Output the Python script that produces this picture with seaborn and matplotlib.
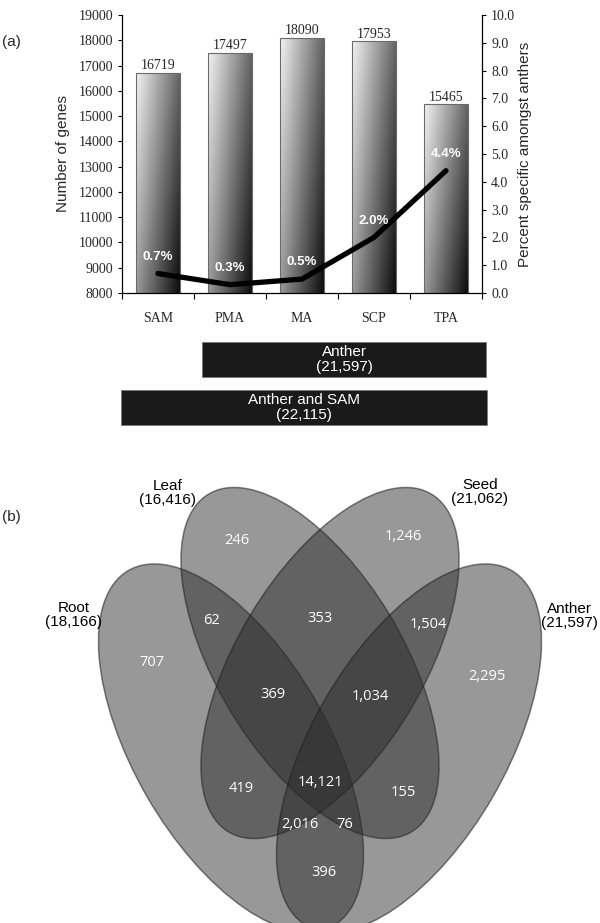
import numpy as np
import pandas as pd
import matplotlib
matplotlib.use('Agg')
import matplotlib.pyplot as plt
from matplotlib.patches import Ellipse
import seaborn as sns

# panel (a): genes per stage and % anther-specific
stages = ['SAM', 'PMA', 'MA', 'SCP', 'TPA']
n_genes = [16719, 17497, 18090, 17953, 15465]
pct_specific = [0.7, 0.3, 0.5, 2.0, 4.4]

# union boxes under the bars
union_names = ['Anther', 'Anther and SAM']
union_counts = [21597, 22115]
union_span = [(0.61, 4.56), (-0.51, 4.57)]

# panel (b): four tissue venn
tissues = ['Root', 'Leaf', 'Seed', 'Anther']
tissue_totals = [18166, 16416, 21062, 21597]
regions = ['R', 'L', 'S', 'A', 'RL', 'LS', 'SA', 'RLS', 'LSA', 'RS', 'LA',
           'RSA', 'RLSA', 'RLA', 'RA']
region_counts = [707, 246, 1246, 2295, 62, 353, 1504, 369, 1034, 419, 155,
                 2016, 14121, 76, 396]

sns.set_style('ticks')
plt.rcParams['font.family'] = ['Liberation Sans', 'DejaVu Sans']
SERIF = 'Liberation Serif'

W, H = 600, 923
fig = plt.figure(figsize=(W / 100, H / 100), dpi=100)

# ---- bars + line
ax = fig.add_axes([122 / W, 1 - 293 / H, 360 / W, 278 / H])
df = pd.DataFrame({'stage': stages, 'genes': n_genes, 'pct': pct_specific})
sns.barplot(data=df, x='stage', y='genes', ax=ax, width=0.6, color='white',
            edgecolor='#6a6a6a', linewidth=0.8)
ax.set_ylim(8000, 19000)
ax.set_xlim(-0.5, 4.5)

yy, xx = np.mgrid[0:1:100j, 0:1:60j]
grad = 0.95 - 0.55 * xx - 0.35 * yy
for p in ax.patches:
    x0, w = p.get_x(), p.get_width()
    top = p.get_y() + p.get_height()
    im = ax.imshow(grad, extent=[x0, x0 + w, 8000, top], cmap='gray', vmin=0, vmax=1,
                   aspect='auto', origin='upper', zorder=0.9, interpolation='bilinear')
    im.set_clip_path(p)
    p.set_facecolor('none')
ax.set_ylim(8000, 19000)
ax.set_xlim(-0.5, 4.5)

ax.bar_label(ax.containers[0], fmt='%d', padding=0.5, fontfamily=SERIF, fontsize=10)

ax.set_yticks(range(8000, 19001, 1000))
ax.set_xticks(range(len(stages)))
ax.set_xticklabels(stages)
ax.set_xticks(np.arange(-0.5, 5, 1), minor=True)
ax.tick_params(axis='x', which='major', length=0, pad=14, labelsize=10)
ax.tick_params(axis='x', which='minor', length=4, width=0.8, color='black')
ax.tick_params(axis='y', length=3, width=0.8, labelsize=10, color='black')
for lbl in ax.get_xticklabels() + ax.get_yticklabels():
    lbl.set_fontfamily(SERIF)
ax.set_xlabel('')
ax.set_ylabel('Number of genes', fontsize=11, labelpad=6)
ax.spines['top'].set_visible(False)
ax.spines['right'].set_visible(False)
for s in ['left', 'bottom']:
    ax.spines[s].set_color('black')
    ax.spines[s].set_linewidth(0.9)

ax2 = ax.twinx()
sns.lineplot(x=list(range(len(stages))), y=pct_specific, ax=ax2, color='black',
             lw=3.8, solid_capstyle='round', solid_joinstyle='round')
ax2.set_ylim(0, 10)
ax2.set_yticks(np.arange(0, 10.1, 1))
ax2.set_yticklabels([f'{v:.1f}' for v in np.arange(0, 10.1, 1)])
ax2.tick_params(axis='y', length=3, width=0.8, labelsize=10, color='black')
for lbl in ax2.get_yticklabels():
    lbl.set_fontfamily(SERIF)
ax2.set_ylabel('Percent specific amongst anthers', fontsize=11, labelpad=2)
for s in ['top', 'left', 'bottom']:
    ax2.spines[s].set_visible(False)
ax2.spines['right'].set_color('black')
ax2.spines['right'].set_linewidth(0.9)
for i, v in enumerate(pct_specific):
    ax2.annotate(f'{v:.1f}%', (i, v), xytext=(0, 12), textcoords='offset points',
                 ha='center', va='center', color='white', fontweight='bold', fontsize=9.5)

# ---- union boxes
axb = fig.add_axes([122 / W, 1 - 431.5 / H, 360 / W, 96 / H])
axb.set_xlim(-0.5, 4.5)
axb.set_ylim(1.5, -0.5)
axb.axis('off')
for i, (name, cnt, (lo, hi)) in enumerate(zip(union_names, union_counts, union_span)):
    axb.barh(i, hi - lo, left=lo, height=0.73, color='#1a1a1a', edgecolor='#7a7a7a',
             linewidth=0.6, clip_on=False)
    axb.text((lo + hi) / 2, i, f'{name}\n({cnt:,})', ha='center', va='center',
             color='white', fontsize=11, linespacing=1.0)

# ---- venn, drawn in pixel space
axv = fig.add_axes([0, 0, 1, 1])
axv.set_xlim(0, W)
axv.set_ylim(H, 0)
axv.axis('off')
axv.patch.set_visible(False)

shapes = {'Root': (231, 748, 205, 97, 60), 'Leaf': (310, 663, 197, 93, 59),
          'Seed': (330, 663, 197, 93, -59), 'Anther': (409, 748, 205, 97, -60)}
for t in tissues:
    cx, cy, a, b, ang = shapes[t]
    axv.add_patch(Ellipse((cx, cy), 2 * a, 2 * b, angle=ang,
                          facecolor=(0.16, 0.16, 0.16, 0.48),
                          edgecolor=(0.12, 0.12, 0.12, 0.55), linewidth=1.1))

name_pos = {'Root': (74, 615), 'Leaf': (168, 493), 'Seed': (480, 492), 'Anther': (569, 616)}
for t, n in zip(tissues, tissue_totals):
    axv.text(*name_pos[t], f'{t}\n({n:,})', ha='center', va='center', fontsize=11,
             linespacing=1.0, color='black')

region_pos = {'R': (152, 663), 'L': (237, 541), 'S': (403, 537), 'A': (487, 676),
              'RL': (212, 620), 'LS': (320, 618), 'SA': (428, 625), 'RLS': (273, 695),
              'LSA': (370, 697), 'RS': (241, 789), 'LA': (403, 793), 'RSA': (300, 825),
              'RLSA': (320, 783), 'RLA': (345, 825), 'RA': (324, 873)}
for r, c in zip(regions, region_counts):
    axv.text(*region_pos[r], f'{c:,}', ha='center', va='center', color='white',
             fontsize=10.5, family=['Open Sans', 'DejaVu Sans'])

axv.text(2, 42, '(a)', ha='left', va='center', fontsize=11)
axv.text(2, 517, '(b)', ha='left', va='center', fontsize=11)

fig.savefig('out.png', dpi=100)
